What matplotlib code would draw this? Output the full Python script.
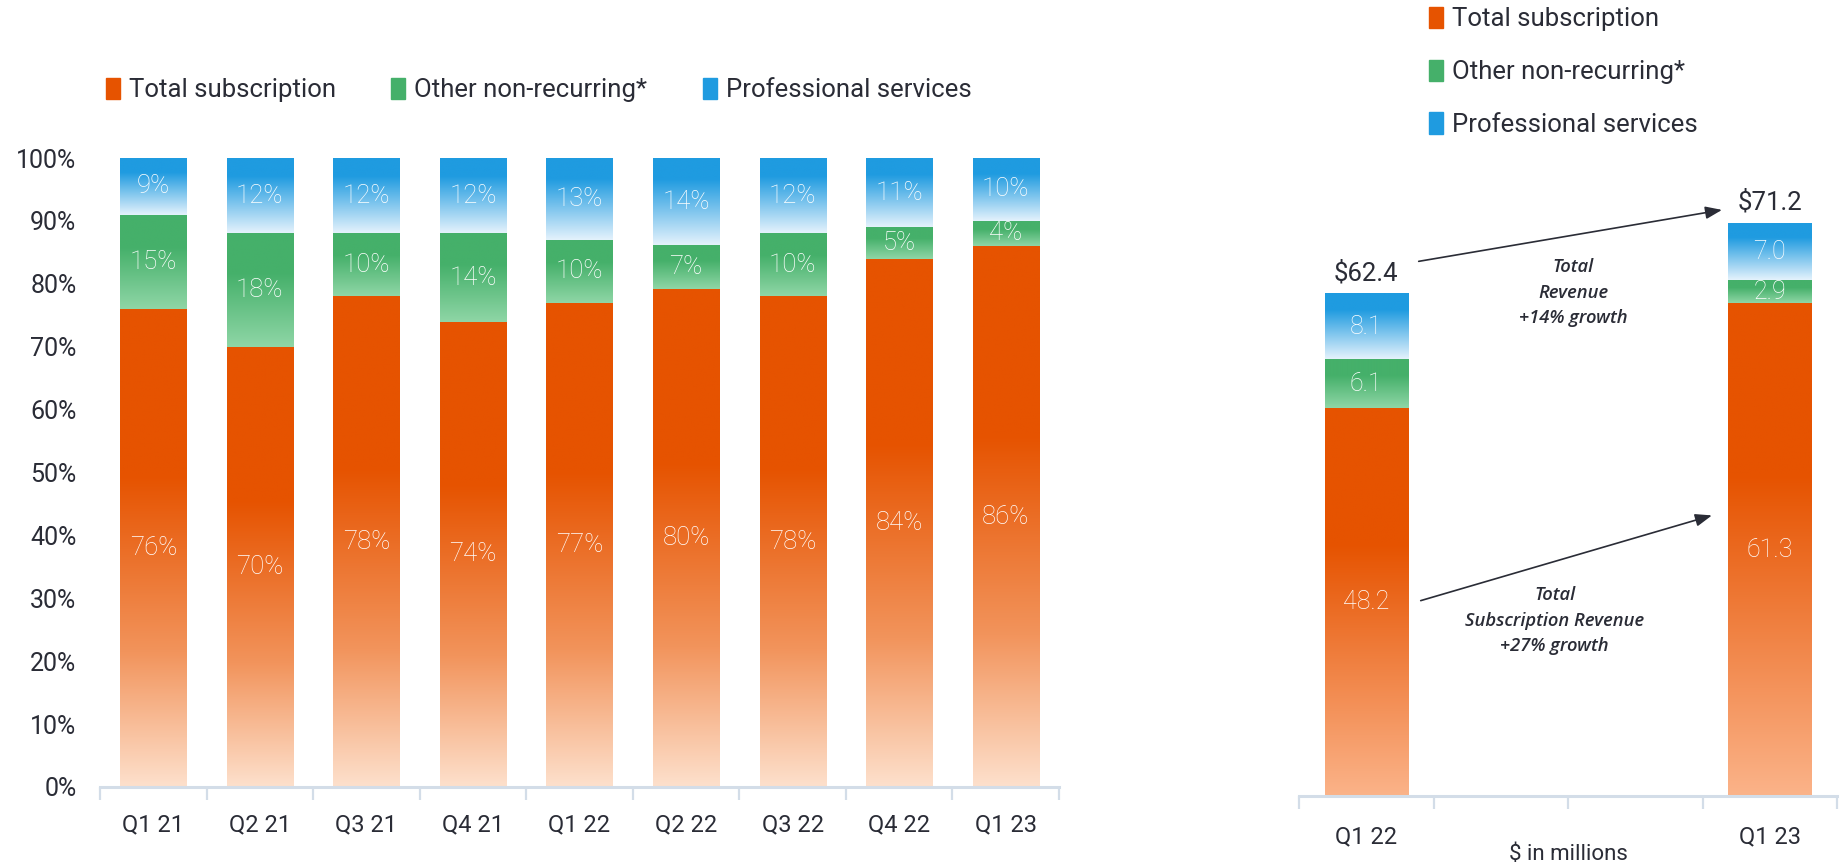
#!/usr/bin/env python3
"""Revenue mix: quarterly % split (left) and Q1 22 vs Q1 23 in $M (right)."""
import numpy as np
import matplotlib
matplotlib.use("Agg")
import matplotlib.pyplot as plt
from matplotlib.colors import to_rgb
from matplotlib.patches import Patch

# ---- data ---------------------------------------------------------------
quarters = ["Q1 21", "Q2 21", "Q3 21", "Q4 21", "Q1 22", "Q2 22", "Q3 22", "Q4 22", "Q1 23"]
pct_subscription = [76, 70, 78, 74, 77, 80, 78, 84, 86]
pct_other = [15, 18, 10, 14, 10, 7, 10, 5, 4]
pct_services = [9, 12, 12, 12, 13, 14, 12, 11, 10]

# right panel: two quarters on a 4-slot axis (middle slots empty)
right_quarters = ["Q1 22", "", "", "Q1 23"]
usd_subscription = [48.2, np.nan, np.nan, 61.3]
usd_other = [6.1, np.nan, np.nan, 2.9]
usd_services = [8.1, np.nan, np.nan, 7.0]
series_names = ["Total subscription", "Other non-recurring*", "Professional services"]

# ---- style --------------------------------------------------------------
FONT = "Roboto"
DARK = "#2a2c36"
AXIS = "#d3dde8"
ORANGE = "#e65300"
GREEN = "#45b06a"
BLUE = "#1f9be0"

# gradient stops, 0 = top of segment, 1 = bottom
ORANGE_L = [(0, ORANGE), (0.35, ORANGE), (0.72, "#f2945c"), (1, "#fde0cc")]
ORANGE_R = [(0, ORANGE), (0.35, ORANGE), (1, "#fbb389")]
GREEN_G = [(0, GREEN), (0.35, GREEN), (1, "#8fd6a6")]
BLUE_G = [(0, BLUE), (0.25, BLUE), (1, "#e4f2fc")]

plt.rcParams["font.family"] = [FONT, "DejaVu Sans"]


def gradient_img(stops, n=200):
    pos = [s[0] for s in stops]
    cols = np.array([to_rgb(s[1]) for s in stops])
    t = np.linspace(0, 1, n)
    rgb = np.stack([np.interp(t, pos, cols[:, k]) for k in range(3)], axis=-1)
    return rgb[:, None, :]


def paint(ax, bars, stops):
    img = gradient_img(stops)
    for p in bars:
        h = p.get_height()
        if not np.isfinite(h) or h <= 0:
            continue
        x0, y0, w = p.get_x(), p.get_y(), p.get_width()
        ax.imshow(img, extent=[x0, x0 + w, y0, y0 + h], origin="upper",
                  aspect="auto", interpolation="bilinear", zorder=2)
        p.set_visible(False)


def style_xaxis(ax, labels, pad):
    n = len(labels)
    ax.set_xlim(-0.5, n - 0.5)
    for s in ("top", "right", "left"):
        ax.spines[s].set_visible(False)
    ax.spines["bottom"].set_color(AXIS)
    ax.spines["bottom"].set_linewidth(2.2)
    ax.set_xticks(range(n))
    ax.set_xticklabels(labels, fontsize=17, color=DARK)
    ax.tick_params(axis="x", which="major", length=0, pad=pad)
    ax.set_xticks(np.arange(-0.5, n), minor=True)
    ax.tick_params(axis="x", which="minor", length=9, width=1.6, color=AXIS)


fig = plt.figure(figsize=(18.47, 8.65), dpi=100)

# ---- left: percentage mix -----------------------------------------------
ax = fig.add_axes([100 / 1847, 78 / 865, 959 / 1847, 629 / 865])
tot = np.array(pct_subscription) + np.array(pct_other) + np.array(pct_services)
s1 = np.array(pct_subscription) / tot * 100
s2 = np.array(pct_other) / tot * 100
s3 = np.array(pct_services) / tot * 100
x = np.arange(len(quarters))
w = 0.62
b1 = ax.bar(x, s1, w)
b2 = ax.bar(x, s2, w, bottom=s1)
b3 = ax.bar(x, s3, w, bottom=s1 + s2)
paint(ax, b1, ORANGE_L)
paint(ax, b2, GREEN_G)
paint(ax, b3, BLUE_G)
for bars, vals in ((b1, pct_subscription), (b2, pct_other), (b3, pct_services)):
    for p, v in zip(bars, vals):
        ax.text(p.get_x() + p.get_width() / 2, p.get_y() + p.get_height() / 2,
                f"{v}%", ha="center", va="center", color="white",
                fontsize=18.5, fontweight="light", zorder=3)
style_xaxis(ax, quarters, pad=19)
ax.set_ylim(0, 100)
ax.set_yticks(range(0, 101, 10))
ax.set_yticklabels([f"{t}%" for t in range(0, 101, 10)], fontsize=18, color=DARK)
ax.tick_params(axis="y", length=0, pad=17)

handles = [Patch(color=c) for c in (ORANGE, GREEN, BLUE)]
legend_kw = dict(frameon=False, fontsize=18.5, labelcolor=DARK,
                 handlelength=0.55, handleheight=0.9, handletextpad=0.35,
                 borderaxespad=0, borderpad=0)
ax.legend(handles, series_names, loc="center left", bbox_to_anchor=(0.006, 1.108),
          ncol=3, columnspacing=2.15, **legend_kw)

# ---- right: $ in millions -----------------------------------------------
ar = fig.add_axes([1299 / 1847, 69 / 865, 538 / 1847, 646 / 865])
xr = np.arange(len(right_quarters))
r1 = np.array(usd_subscription)
r2 = np.array(usd_other)
r3 = np.array(usd_services)
c1 = ar.bar(xr, r1, w)
c2 = ar.bar(xr, r2, w, bottom=r1)
c3 = ar.bar(xr, r3, w, bottom=r1 + r2)
paint(ar, c1, ORANGE_R)
paint(ar, c2, GREEN_G)
paint(ar, c3, BLUE_G)
for bars in (c1, c2, c3):
    for p in bars:
        h = p.get_height()
        if not np.isfinite(h):
            continue
        ar.text(p.get_x() + p.get_width() / 2, p.get_y() + h / 2, f"{h:.1f}",
                ha="center", va="center", color="white", fontsize=18,
                fontweight="light", zorder=3)
totals = r1 + r2 + r3
for xi, t in zip(xr, totals):
    if np.isfinite(t):
        ar.text(xi, t + 1.1, f"${t:.1f}", ha="center", va="bottom",
                color=DARK, fontsize=18.5)
style_xaxis(ar, right_quarters, pad=21)
ar.set_ylim(0, 80.35)
ar.set_yticks([])

arrow = dict(arrowstyle="-|>,head_length=1.0,head_width=0.38", color=DARK, lw=1.2,
             shrinkA=0, shrinkB=0)
ar.annotate("", xy=(2.645, 72.9), xytext=(0.39, 66.5), arrowprops=arrow)
ar.annotate("", xy=(2.57, 34.9), xytext=(0.405, 24.3), arrowprops=arrow)
note = dict(ha="center", va="center", style="italic", family="Open Sans",
            fontweight="semibold", fontsize=13.2, color=DARK, linespacing=1.55)
ar.text(1.54, 62.6, "Total\nRevenue\n+14% growth", **note)
ar.text(1.40, 21.8, "Total\nSubscription Revenue\n+27% growth", **note)
ar.text(0.5, -0.091, "$ in millions", transform=ar.transAxes, ha="center",
        va="center", fontsize=16, color=DARK)

ar.legend(handles, series_names, loc="center left", bbox_to_anchor=(0.2416, 1.121),
          ncol=1, labelspacing=1.1, **legend_kw)

fig.savefig("out.png", dpi=100)
